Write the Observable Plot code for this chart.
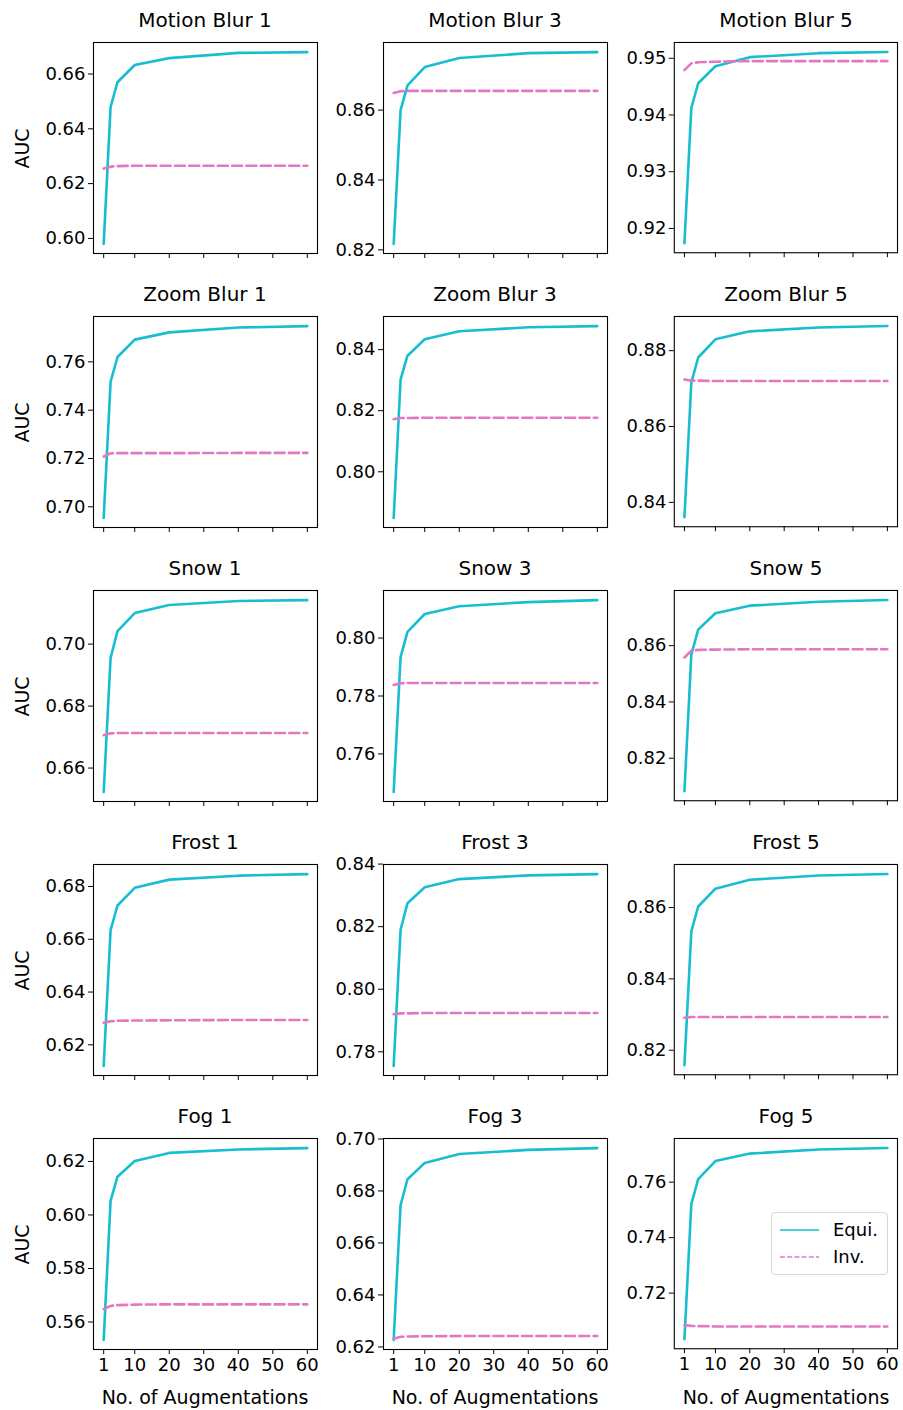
<!DOCTYPE html>
<html>
<head>
<meta charset="utf-8">
<script src="https://cdn.jsdelivr.net/npm/d3@7"></script>
<script src="https://cdn.jsdelivr.net/npm/@observablehq/plot@0.6"></script>
<style>
  html, body { margin: 0; padding: 0; background: white; }
  #root { position: relative; width: 903px; height: 1410px; background: white; font-family: "DejaVu Sans", sans-serif; color: black; }
  .panel { position: absolute; }
  .title { position: absolute; font-size: 20px; line-height: 20px; white-space: nowrap; text-align: center; }
  .xlabel { position: absolute; font-size: 19px; line-height: 19px; white-space: nowrap; text-align: center; }
  .ylabel { position: absolute; font-size: 19px; line-height: 19px; white-space: nowrap; transform-origin: center center; }
  .legend { position: absolute; border: 1px solid #d6d6d6; border-radius: 4px; background: rgba(255,255,255,0.8); }
</style>
</head>
<body>
<div id="root"></div>
<script>
// ---------------- data ----------------
const augmentations = [1, 3, 5, 10, 20, 40, 60];
const xTickValues = [1, 10, 20, 30, 40, 50, 60];
const corruptions = ["Motion Blur", "Zoom Blur", "Snow", "Frost", "Fog"];
const severities = [1, 3, 5];
const seriesNames = ["Equi.", "Inv."];
const yLabel = "AUC";
const xLabel = "No. of Augmentations";

const motionBlurEqui = [
  [0.5980, 0.6480, 0.6570, 0.6633, 0.6658, 0.6677, 0.6680],
  [0.8217, 0.8600, 0.8671, 0.8723, 0.8749, 0.8763, 0.8766],
  [0.9174, 0.9412, 0.9456, 0.9486, 0.9502, 0.9509, 0.9511]
];
const motionBlurInv = [
  [0.6255, 0.6262, 0.6264, 0.6265, 0.6265, 0.6265, 0.6265],
  [0.8649, 0.8654, 0.8655, 0.8655, 0.8655, 0.8655, 0.8655],
  [0.9479, 0.9491, 0.9493, 0.9494, 0.9495, 0.9495, 0.9495]
];
const motionBlurTicks = [[0.60, 0.62, 0.64, 0.66], [0.82, 0.84, 0.86], [0.92, 0.93, 0.94, 0.95]];

const zoomBlurEqui = [
  [0.6954, 0.7517, 0.7620, 0.7692, 0.7722, 0.7742, 0.7748],
  [0.7849, 0.8302, 0.8380, 0.8434, 0.8460, 0.8473, 0.8477],
  [0.8361, 0.8716, 0.8782, 0.8830, 0.8851, 0.8861, 0.8865]
];
const zoomBlurInv = [
  [0.7208, 0.7221, 0.7222, 0.7222, 0.7222, 0.7223, 0.7223],
  [0.8172, 0.8176, 0.8176, 0.8177, 0.8177, 0.8177, 0.8177],
  [0.8724, 0.8721, 0.8721, 0.8720, 0.8720, 0.8720, 0.8720]
];
const zoomBlurTicks = [[0.70, 0.72, 0.74, 0.76], [0.80, 0.82, 0.84], [0.84, 0.86, 0.88]];

const snowEqui = [
  [0.6523, 0.6955, 0.7042, 0.7100, 0.7126, 0.7139, 0.7142],
  [0.7469, 0.7934, 0.8021, 0.8083, 0.8110, 0.8124, 0.8131],
  [0.8083, 0.8568, 0.8657, 0.8715, 0.8742, 0.8756, 0.8762]
];
const snowInv = [
  [0.6706, 0.6712, 0.6713, 0.6713, 0.6713, 0.6713, 0.6713],
  [0.7838, 0.7844, 0.7845, 0.7845, 0.7845, 0.7845, 0.7845],
  [0.8558, 0.8582, 0.8585, 0.8586, 0.8587, 0.8587, 0.8587]
];
const snowTicks = [[0.66, 0.68, 0.70], [0.76, 0.78, 0.80], [0.82, 0.84, 0.86]];

const frostEqui = [
  [0.6120, 0.6635, 0.6728, 0.6795, 0.6826, 0.6841, 0.6847],
  [0.7755, 0.8190, 0.8275, 0.8326, 0.8352, 0.8364, 0.8368],
  [0.8158, 0.8533, 0.8603, 0.8653, 0.8678, 0.8690, 0.8694]
];
const frostInv = [
  [0.6284, 0.6289, 0.6291, 0.6292, 0.6293, 0.6294, 0.6294],
  [0.7920, 0.7923, 0.7923, 0.7924, 0.7924, 0.7924, 0.7924],
  [0.8291, 0.8293, 0.8293, 0.8293, 0.8293, 0.8293, 0.8293]
];
const frostTicks = [[0.62, 0.64, 0.66, 0.68], [0.78, 0.80, 0.82, 0.84], [0.82, 0.84, 0.86]];

const fogEqui = [
  [0.5533, 0.6053, 0.6143, 0.6202, 0.6232, 0.6245, 0.6250],
  [0.6227, 0.6746, 0.6845, 0.6908, 0.6942, 0.6958, 0.6965],
  [0.7034, 0.7521, 0.7611, 0.7676, 0.7703, 0.7718, 0.7723]
];
const fogInv = [
  [0.5648, 0.5660, 0.5663, 0.5665, 0.5666, 0.5666, 0.5666],
  [0.6231, 0.6239, 0.6240, 0.6241, 0.6242, 0.6242, 0.6242],
  [0.7085, 0.7082, 0.7081, 0.7080, 0.7080, 0.7080, 0.7080]
];
const fogTicks = [[0.56, 0.58, 0.60, 0.62], [0.62, 0.64, 0.66, 0.68, 0.70], [0.72, 0.74, 0.76]];

// ---------------- layout ----------------
const equiByRow = [motionBlurEqui, zoomBlurEqui, snowEqui, frostEqui, fogEqui];
const invByRow = [motionBlurInv, zoomBlurInv, snowInv, frostInv, fogInv];
const ticksByRow = [motionBlurTicks, zoomBlurTicks, snowTicks, frostTicks, fogTicks];

const EQUI_COLOR = "#17becf";
const INV_COLOR = "#e377c2";
const LINE_W = 2.6;
const DASH = "10,4.3";

const frameLeft = [93, 383, 674];
const frameTop0 = 42, rowStep = 274;
const frameW = 224, frameH = 211;
const mL = 62, mR = 6, mT = 6;

const root = document.getElementById("root");

function padDomain(vals) {
  const [lo, hi] = d3.extent(vals);
  const pad = (hi - lo) * 0.05;
  return [lo - pad, hi + pad];
}
const xMin = augmentations[0], xMax = augmentations[augmentations.length - 1];
const xPad = (xMax - xMin) * 0.05;

corruptions.forEach((name, r) => {
  severities.forEach((sev, c) => {
    const equi = equiByRow[r][c].map((v, i) => ({x: augmentations[i], y: v}));
    const inv = invByRow[r][c].map((v, i) => ({x: augmentations[i], y: v}));
    const isBottom = r === corruptions.length - 1;
    const mB = isBottom ? 34 : 12;
    const fTop = frameTop0 + rowStep * r;
    const fLeft = frameLeft[c];
    const chart = Plot.plot({
      width: frameW + mL + mR,
      height: frameH + mT + mB,
      marginLeft: mL, marginRight: mR, marginTop: mT, marginBottom: mB,
      style: {fontFamily: "DejaVu Sans, sans-serif", fontSize: "18px", color: "black", background: "transparent", overflow: "visible"},
      x: {domain: [xMin - xPad, xMax + xPad]},
      y: {domain: padDomain([...equiByRow[r][c], ...invByRow[r][c]])},
      marks: [
        Plot.axisX({ticks: xTickValues, tickSize: 5, tickPadding: 4, label: null,
          tickFormat: isBottom ? (d => String(d)) : (() => ""), fontSize: 18}),
        Plot.axisY({ticks: ticksByRow[r][c], tickSize: 5, tickPadding: 3, label: null,
          tickFormat: d3.format(".2f"), fontSize: 18}),
        Plot.line(equi, {x: "x", y: "y", stroke: EQUI_COLOR, strokeWidth: LINE_W}),
        Plot.line(inv, {x: "x", y: "y", stroke: INV_COLOR, strokeWidth: LINE_W, strokeDasharray: DASH}),
        Plot.frame({stroke: "black", strokeWidth: 1.1})
      ]
    });
    const wrap = document.createElement("div");
    wrap.className = "panel";
    wrap.style.left = (fLeft - mL) + "px";
    wrap.style.top = (fTop - mT) + "px";
    wrap.appendChild(chart);
    root.appendChild(wrap);

    const t = document.createElement("div");
    t.className = "title";
    t.textContent = `${name} ${sev}`;
    t.style.left = fLeft + "px";
    t.style.width = frameW + "px";
    t.style.top = (fTop - 32) + "px";
    root.appendChild(t);

    if (c === 0) {
      const yl = document.createElement("div");
      yl.className = "ylabel";
      yl.textContent = yLabel;
      yl.style.width = "60px";
      yl.style.textAlign = "center";
      yl.style.left = (22 - 30) + "px";
      yl.style.top = (fTop + frameH / 2 - 9) + "px";
      yl.style.transform = "rotate(-90deg)";
      root.appendChild(yl);
    }
    if (isBottom) {
      const xl = document.createElement("div");
      xl.className = "xlabel";
      xl.textContent = xLabel;
      xl.style.left = (fLeft - 20) + "px";
      xl.style.width = (frameW + 40) + "px";
      xl.style.top = (fTop + frameH + 39) + "px";
      root.appendChild(xl);
    }
  });
});

// legend in the last panel (Fog 5)
const legend = document.createElement("div");
legend.className = "legend";
legend.style.left = "771px";
legend.style.top = "1212px";
legend.style.width = "115px";
legend.style.height = "61px";
const lsvg = d3.create("svg").attr("width", 115).attr("height", 61)
  .style("position", "absolute").style("left", "0px").style("top", "0px");
[[EQUI_COLOR, null, 17], [INV_COLOR, "5,2.2", 44]].forEach(([col, dash, yy], i) => {
  lsvg.append("line").attr("x1", 8).attr("x2", 47).attr("y1", yy).attr("y2", yy)
    .attr("stroke", col).attr("stroke-width", 1.3).attr("stroke-dasharray", dash);
  lsvg.append("text").attr("x", 61).attr("y", yy).attr("dy", "0.35em")
    .attr("font-family", "DejaVu Sans, sans-serif").attr("font-size", 18).attr("fill", "black")
    .text(seriesNames[i]);
});
legend.appendChild(lsvg.node());
root.appendChild(legend);
</script>
</body>
</html>
